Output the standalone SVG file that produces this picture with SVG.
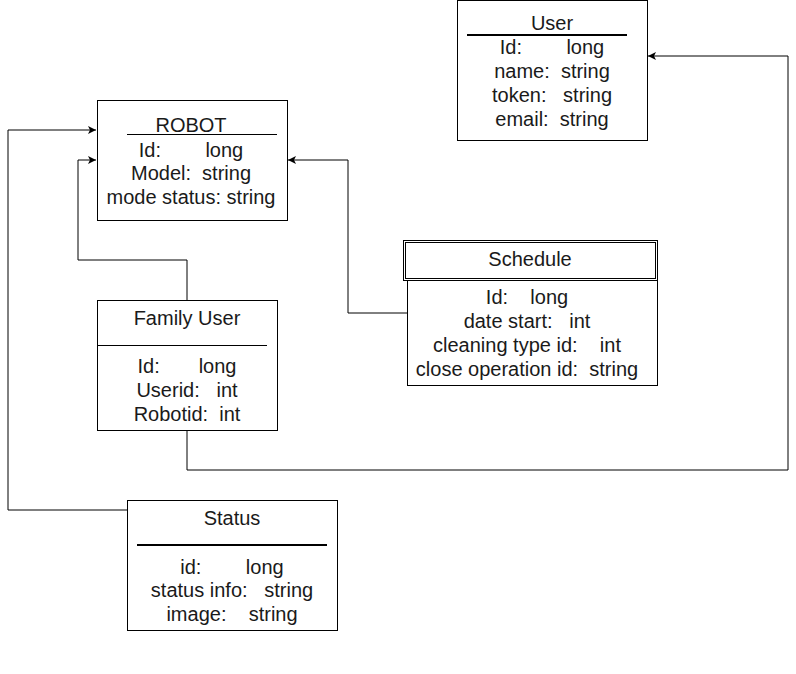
<svg xmlns="http://www.w3.org/2000/svg" width="796" height="674" viewBox="0 0 796 674">
<defs>
<style>
.box{fill:#fff;stroke:#000;stroke-width:1}
.t{font-family:"Liberation Sans",Arial,sans-serif;font-size:20px;fill:#1a1a1a;text-anchor:middle;white-space:pre}
.sep{stroke:#000;stroke-width:1}
.sep2{stroke:#000;stroke-width:2}
.c{fill:none;stroke:#000;stroke-width:1}
</style>
<marker id="arr" markerWidth="10" markerHeight="10" refX="8" refY="4" orient="auto" markerUnits="userSpaceOnUse">
<path d="M0,0 L8,4 L0,8 L2,4 Z" fill="#000"/>
</marker>
</defs>
<rect width="796" height="674" fill="#fff"/>
<g id="connectors">
<path class="c" d="M127,510 H8 V130 H96" marker-end="url(#arr)"/>
<path class="c" d="M187,300 V260 H78 V160 H96" marker-end="url(#arr)"/>
<path class="c" d="M407,313 H348 V160 H288" marker-end="url(#arr)"/>
<path class="c" d="M187,430 V470 H788 V56 H648" marker-end="url(#arr)"/>
</g>
<g id="user">
<rect class="box" x="457.5" y="0.5" width="190" height="140"/>
<line class="sep2" x1="467" y1="35" x2="627" y2="35"/>
<text class="t" x="552" y="30">User</text>
<text class="t" x="552" y="54">Id:        long</text>
<text class="t" x="552" y="78">name:  string</text>
<text class="t" x="552" y="102">token:   string</text>
<text class="t" x="552" y="126">email:  string</text>
</g>
<g id="robot">
<rect class="box" x="97.5" y="100.5" width="190" height="120"/>
<line class="sep" x1="127" y1="134.5" x2="277" y2="134.5"/>
<text class="t" x="191" y="132">ROBOT</text>
<text class="t" x="191" y="157">Id:        long</text>
<text class="t" x="191" y="180">Model:  string</text>
<text class="t" x="191" y="204">mode status: string</text>
</g>
<g id="schedule">
<rect class="box" x="403.5" y="240.5" width="254" height="40"/>
<rect class="box" x="405.5" y="242.5" width="250" height="36"/>
<rect class="box" x="407.5" y="280.5" width="250" height="105"/>
<text class="t" x="530" y="266">Schedule</text>
<text class="t" x="527" y="304">Id:    long</text>
<text class="t" x="527" y="328">date start:   int</text>
<text class="t" x="527" y="352">cleaning type id:    int</text>
<text class="t" x="527" y="376">close operation id:  string</text>
</g>
<g id="family-user">
<rect class="box" x="97.5" y="300.5" width="180" height="130"/>
<line class="sep" x1="97" y1="345.5" x2="267" y2="345.5"/>
<text class="t" x="187" y="325">Family User</text>
<text class="t" x="187" y="373">Id:       long</text>
<text class="t" x="187" y="397">Userid:   int</text>
<text class="t" x="187" y="421">Robotid:  int</text>
</g>
<g id="status">
<rect class="box" x="127.5" y="500.5" width="210" height="130"/>
<line class="sep2" x1="137" y1="545" x2="327" y2="545" stroke="#222"/>
<text class="t" x="232" y="525">Status</text>
<text class="t" x="232" y="574">id:        long</text>
<text class="t" x="232" y="597">status info:   string</text>
<text class="t" x="232" y="621">image:    string</text>
</g>
</svg>
